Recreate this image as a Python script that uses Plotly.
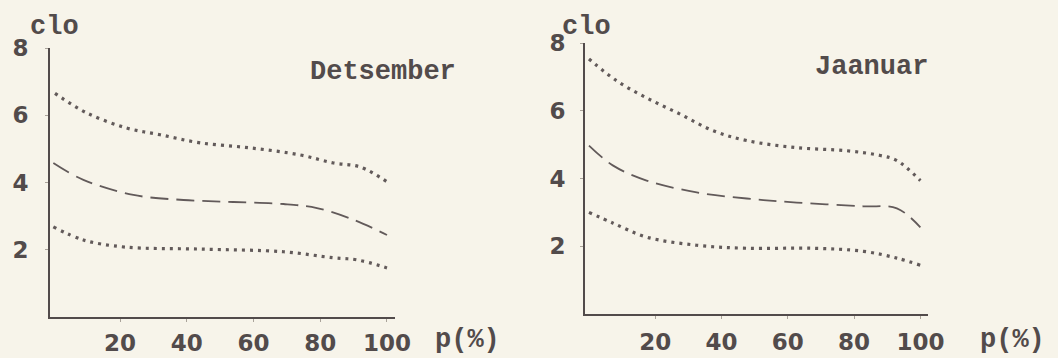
import plotly.graph_objects as go

# Detsember (left panel)
dec_upper_x = [0.5, 10, 22, 32, 44, 59, 74, 84, 92, 100]
dec_upper_y = [6.65, 6.07, 5.62, 5.42, 5.18, 5.03, 4.82, 4.58, 4.46, 4.02]
dec_mid_x = [0, 9, 24, 39, 54, 69, 79, 90, 100]
dec_mid_y = [4.58, 4.08, 3.63, 3.48, 3.42, 3.36, 3.24, 2.89, 2.44]
dec_low_x = [0, 9, 21.5, 44, 69, 84, 91, 100]
dec_low_y = [2.68, 2.29, 2.08, 2.02, 1.94, 1.76, 1.70, 1.46]

# Jaanuar (right panel)
jan_upper_x = [0, 8.4, 17.4, 27.5, 37.5, 47.6, 62.7, 77.8, 87.9, 92.9, 100]
jan_upper_y = [7.53, 6.88, 6.38, 5.90, 5.41, 5.12, 4.91, 4.82, 4.68, 4.53, 3.94]
jan_mid_x = [0, 7.3, 17.4, 32.5, 47.6, 62.7, 82.8, 92.9, 100]
jan_mid_y = [4.97, 4.38, 3.94, 3.59, 3.41, 3.29, 3.18, 3.12, 2.56]
jan_low_x = [0, 7.3, 17.4, 32.5, 47.6, 67.6, 82.8, 92.9, 100]
jan_low_y = [3.00, 2.68, 2.27, 2.03, 1.94, 1.94, 1.85, 1.65, 1.44]

x_ticks = [20, 40, 60, 80, 100]
y_ticks = [2, 4, 6, 8]
panel_titles = ["Detsember", "Jaanuar"]
y_label = "clo"
x_label = "p(%)"

INK = "#524b4b"
LINE = "#625a5a"
BG = "#f7f4ea"
MONO = "Liberation Mono"
NUM = "DejaVu Sans"

W, H = 1058, 358

fig = go.Figure()

panels = [
    (dec_upper_x, dec_upper_y, dec_mid_x, dec_mid_y, dec_low_x, dec_low_y, "x", "y"),
    (jan_upper_x, jan_upper_y, jan_mid_x, jan_mid_y, jan_low_x, jan_low_y, "x2", "y2"),
]
for ux, uy, mx, my, lx, ly, xa, ya in panels:
    fig.add_trace(go.Scatter(x=ux, y=uy, mode="lines", line=dict(color=LINE, width=3.2, dash="3px,5px", shape="spline"),
                             xaxis=xa, yaxis=ya, showlegend=False))
    fig.add_trace(go.Scatter(x=mx, y=my, mode="lines", line=dict(color=LINE, width=1.8, dash="18px,8px", shape="spline"),
                             xaxis=xa, yaxis=ya, showlegend=False))
    fig.add_trace(go.Scatter(x=lx, y=ly, mode="lines", line=dict(color=LINE, width=3.2, dash="3px,5px", shape="spline"),
                             xaxis=xa, yaxis=ya, showlegend=False))

tickfont = dict(family=NUM, size=23, color=INK, weight="bold")
axis_common = dict(showgrid=False, zeroline=False, showline=True, linecolor=INK, linewidth=2,
                   ticks="outside", ticklen=3, tickcolor="#aaa39a", tickfont=tickfont, automargin=False)

fig.update_layout(
    width=W, height=H,
    margin=dict(l=0, r=0, t=0, b=0, autoexpand=False),
    paper_bgcolor=BG, plot_bgcolor=BG,
    xaxis=dict(domain=[50 / W, 395 / W], range=[-1, 102.4], tickvals=x_ticks, anchor="y",
               ticklabelstandoff=1, **axis_common),
    yaxis=dict(domain=[(H - 317) / H, (H - 48) / H], range=[0, 8], tickvals=y_ticks, anchor="x",
               ticklabelstandoff=12, **axis_common),
    xaxis2=dict(domain=[585 / W, 928 / W], range=[-1.2, 102.3], tickvals=x_ticks, anchor="y2",
                ticklabelstandoff=3, **axis_common),
    yaxis2=dict(domain=[(H - 314) / H, (H - 43) / H], range=[0, 8], tickvals=y_ticks, anchor="x2",
                ticklabelstandoff=10, **axis_common),
)

txt = dict(family=MONO, size=27, color=INK, weight="bold")
ann = [
    dict(x=54 / W, y=1 - 27 / H, text=y_label, size=27),
    dict(x=586 / W, y=1 - 27 / H, text=y_label, size=27),
    dict(x=383 / W, y=1 - 72 / H, text=panel_titles[0], size=27),
    dict(x=871 / W, y=1 - 67 / H, text=panel_titles[1], size=27),
    dict(x=467 / W, y=1 - 340 / H, text=x_label, size=27),
    dict(x=1012 / W, y=1 - 340 / H, text=x_label, size=27),
]
for a in ann:
    size = a.pop("size")
    fig.add_annotation(xref="paper", yref="paper", showarrow=False, xanchor="center", yanchor="middle",
                       font=dict(txt, size=size), **a)

fig.write_html("out.html", config={"displayModeBar": False},
               post_script="document.body.style.margin='0';document.body.style.overflow='hidden';")
